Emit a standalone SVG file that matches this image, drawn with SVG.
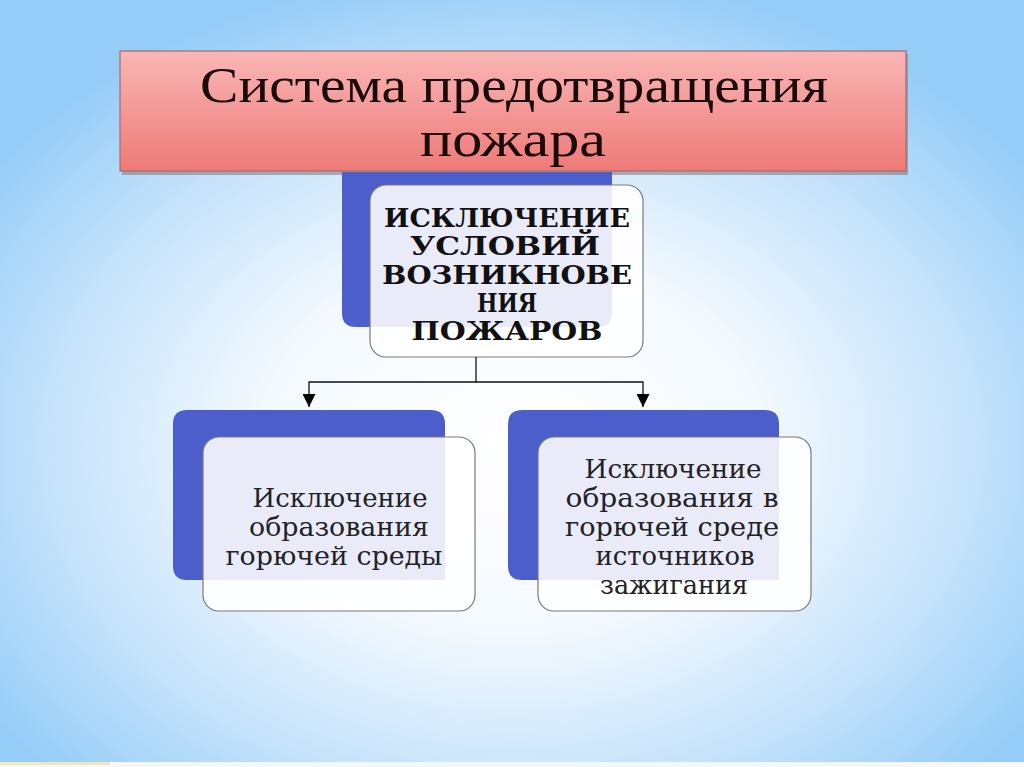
<svg xmlns="http://www.w3.org/2000/svg" width="1024" height="767" viewBox="0 0 1024 767">
  <defs>
    <radialGradient id="bg" cx="50%" cy="58%" r="62%" fx="50%" fy="58%">
      <stop offset="0" stop-color="#ffffff"/>
      <stop offset="0.4" stop-color="#f3f9fe"/>
      <stop offset="0.72" stop-color="#c6e3fb"/>
      <stop offset="1" stop-color="#96cdf8"/>
    </radialGradient>
    <linearGradient id="pink" x1="0" y1="0" x2="0" y2="1">
      <stop offset="0" stop-color="#f9b6b5"/>
      <stop offset="1" stop-color="#ee7a77"/>
    </linearGradient>
    <marker id="arr" viewBox="0 0 10 10" refX="10" refY="5" markerWidth="14" markerHeight="13" markerUnits="userSpaceOnUse" orient="auto">
      <path d="M0,0 L10,5 L0,10 z" fill="#000"/>
    </marker>
    <style>
      .back { fill: #4b5ecb; }
      .card { fill: #ffffff; fill-opacity: 0.88; stroke: #7a7a7a; stroke-width: 1.2; }
      .conn { stroke: #111; stroke-width: 1.3; fill: none; }
      .title { font-family: "Liberation Serif", serif; font-size: 50px; fill: #1a0a0a; text-anchor: middle; }
      .bold { font-family: "DejaVu Serif", "Liberation Serif", serif; font-weight: bold; font-size: 26px; fill: #111; text-anchor: middle; }
      .reg { font-family: "DejaVu Serif", "Liberation Serif", serif; font-size: 26px; fill: #222; text-anchor: middle; }
    </style>
  </defs>

  <rect x="0" y="0" width="1024" height="767" fill="url(#bg)"/>
  <rect x="0" y="762" width="1024" height="5" fill="#f4f8fb"/>
  <rect x="0" y="762" width="110" height="3" fill="#f3e6b8"/>

  <g id="title">
    <rect x="122" y="54" width="786" height="121" fill="#8a7c86" opacity="0.6"/>
    <rect x="120" y="51" width="786" height="120" fill="url(#pink)" stroke="#a86a6a" stroke-width="1.2"/>
    <text class="title" x="514" y="102" textLength="628" lengthAdjust="spacingAndGlyphs">Система предотвращения</text>
    <text class="title" x="513" y="156" textLength="186" lengthAdjust="spacingAndGlyphs">пожара</text>
  </g>

  <g id="center">
    <path class="back" d="M342,172 H612 V313 Q612,327 598,327 H356 Q342,327 342,313 Z"/>
    <rect class="card" x="370" y="185" width="273" height="172" rx="16" ry="16"/>
    <text class="bold" x="507" y="227" textLength="246" lengthAdjust="spacingAndGlyphs">ИСКЛЮЧЕНИЕ</text>
    <text class="bold" x="505" y="255" textLength="190" lengthAdjust="spacingAndGlyphs">УСЛОВИЙ</text>
    <text class="bold" x="507" y="284" textLength="250" lengthAdjust="spacingAndGlyphs">ВОЗНИКНОВЕ</text>
    <text class="bold" x="507" y="312" textLength="60" lengthAdjust="spacingAndGlyphs">НИЯ</text>
    <text class="bold" x="507" y="340" textLength="191" lengthAdjust="spacingAndGlyphs">ПОЖАРОВ</text>
  </g>

  <g id="left">
    <path class="back" d="M173,424 Q173,410 187,410 H431 Q445,410 445,424 V580 H187 Q173,580 173,566 Z"/>
    <rect class="card" x="203" y="437" width="272" height="174" rx="16" ry="16"/>
    <text class="reg" x="340" y="507" textLength="175" lengthAdjust="spacingAndGlyphs">Исключение</text>
    <text class="reg" x="339" y="536" textLength="180" lengthAdjust="spacingAndGlyphs">образования</text>
    <text class="reg" x="334" y="565" textLength="217" lengthAdjust="spacingAndGlyphs">горючей среды</text>
  </g>

  <g id="right">
    <path class="back" d="M508,424 Q508,410 522,410 H765 Q779,410 779,424 V580 H522 Q508,580 508,566 Z"/>
    <rect class="card" x="538" y="437" width="273" height="174" rx="16" ry="16"/>
    <text class="reg" x="673" y="478" textLength="177" lengthAdjust="spacingAndGlyphs">Исключение</text>
    <text class="reg" x="672" y="507" textLength="213" lengthAdjust="spacingAndGlyphs">образования в</text>
    <text class="reg" x="672" y="536" textLength="214" lengthAdjust="spacingAndGlyphs">горючей среде</text>
    <text class="reg" x="675" y="565" textLength="159" lengthAdjust="spacingAndGlyphs">источников</text>
    <text class="reg" x="674" y="594" textLength="148" lengthAdjust="spacingAndGlyphs">зажигания</text>
  </g>

  <g id="connectors">
    <polyline class="conn" points="476,357 476,382 309,382 309,407" marker-end="url(#arr)"/>
    <polyline class="conn" points="476,382 643,382 643,407" marker-end="url(#arr)"/>
  </g>
</svg>
